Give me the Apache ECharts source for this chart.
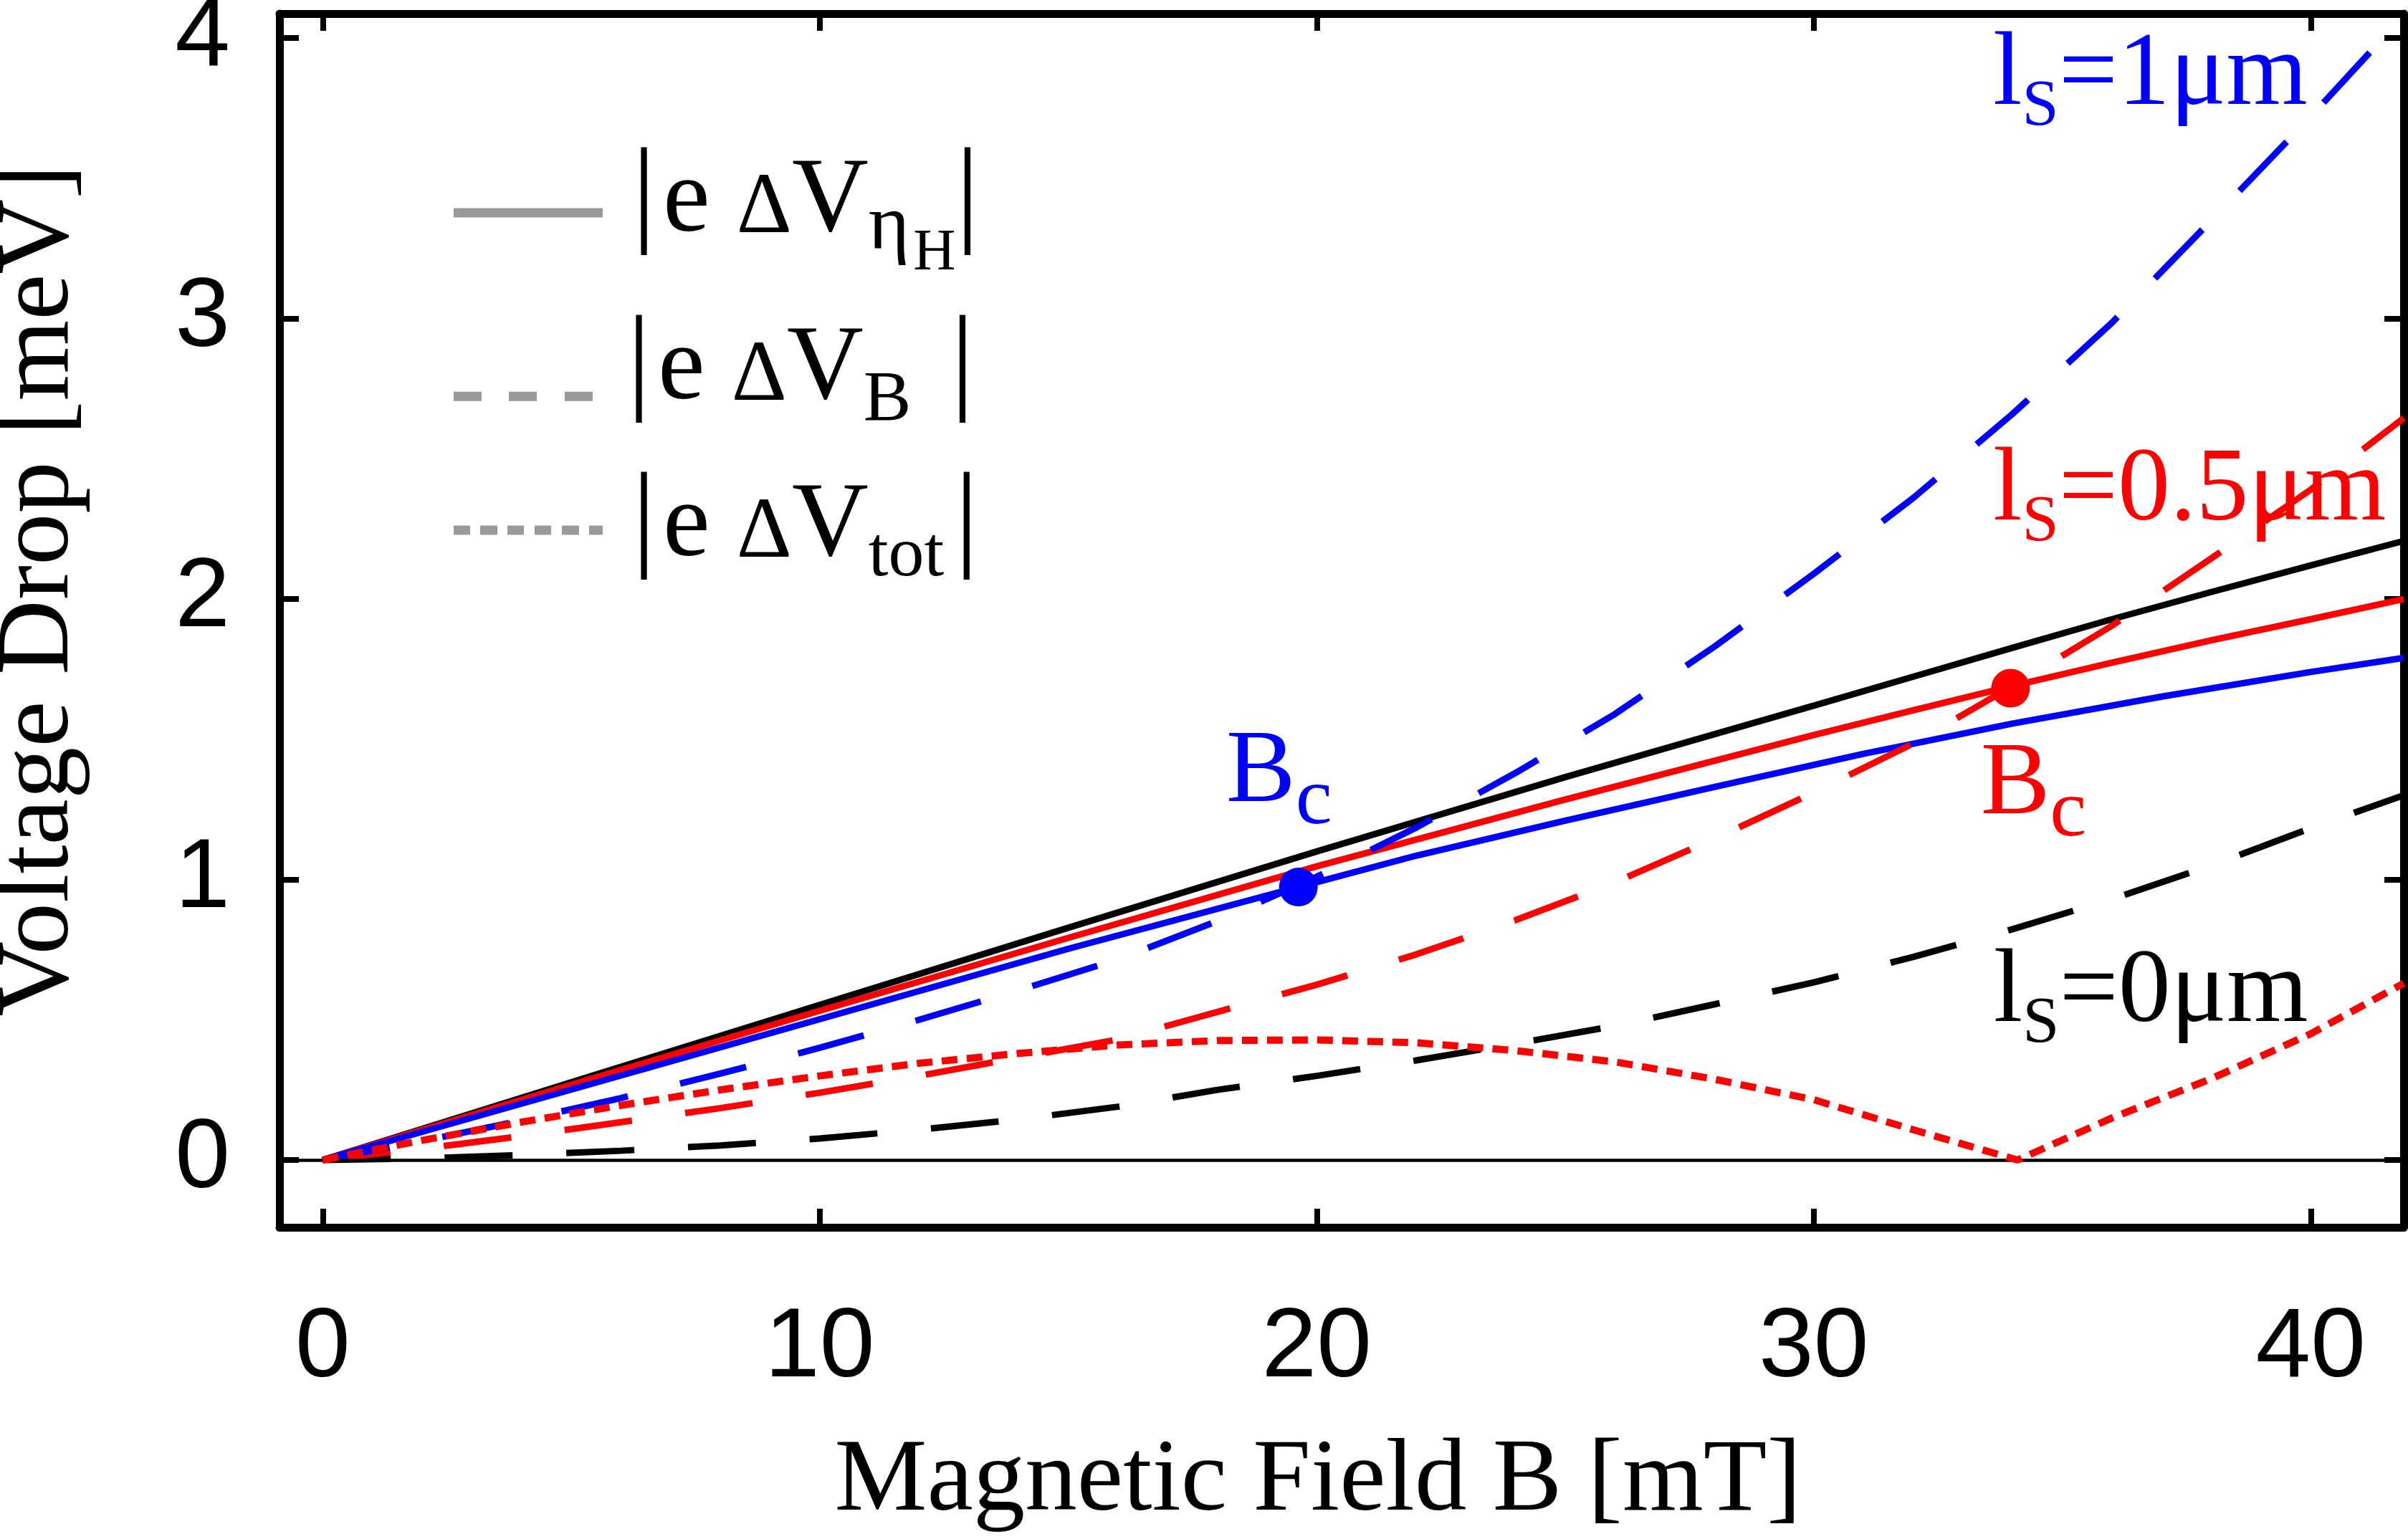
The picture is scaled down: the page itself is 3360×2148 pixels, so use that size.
<!DOCTYPE html>
<html>
<head>
<meta charset="utf-8">
<title>Voltage drop vs magnetic field</title>
<script src="https://cdn.jsdelivr.net/npm/echarts@6.0.0/dist/echarts.min.js"></script>
<style>
    html, body { margin: 0; padding: 0; background: #fff; }
    #chart { width: 3360px; height: 2148px; }
</style>
</head>
<body>
<div id="chart"></div>
<script>
// values: B in mT, voltage drop in meV
var xTicks = [0, 10, 20, 30, 40]
var yTicks = [0, 1, 2, 3, 4]
var xMin = -0.87, xMax = 41.87
var yMin = -0.24, yMax = 4.087

// |e dV_etaH| (solid)
var bEtaBlack = [0, 5, 10, 15, 20, 25, 30, 32, 34, 36, 38, 40, 41.87]
var vEtaBlack = [0, 0.277, 0.553, 0.828, 1.10, 1.365, 1.62, 1.723, 1.826, 1.928, 2.025, 2.12, 2.207]
var bEtaRed = [0, 5, 10, 15, 20, 25, 30, 32, 34, 36, 38, 40, 41.87]
var vEtaRed = [0, 0.268, 0.532, 0.792, 1.047, 1.285, 1.515, 1.603, 1.69, 1.773, 1.853, 1.928, 2.0]
var bEtaBlue = [0, 5, 10, 15, 19.63, 22, 25, 28, 31, 34, 37, 40, 41.87]
var vEtaBlue = [0, 0.251, 0.502, 0.753, 0.973, 1.085, 1.21, 1.33, 1.448, 1.556, 1.652, 1.74, 1.79]

// |e dV_B| (dashed)
var bField = [0, 2, 4, 6, 8, 10, 12, 14, 16, 18, 20, 22, 24, 26, 28, 30, 32, 34, 36, 38, 40, 41.87]
var vBBlack = [0, 0.006, 0.018, 0.033, 0.052, 0.077, 0.108, 0.145, 0.19, 0.25, 0.30, 0.355, 0.415, 0.478, 0.555, 0.633, 0.724, 0.823, 0.93, 1.05, 1.183, 1.30]
var vBRed = [0, 0.04, 0.085, 0.135, 0.185, 0.24, 0.30, 0.365, 0.43, 0.528, 0.625, 0.733, 0.855, 0.99, 1.145, 1.31, 1.485, 1.69, 1.905, 2.145, 2.39, 2.645]
var vBBlue = [0, 0.067, 0.141, 0.221, 0.308, 0.40, 0.50, 0.605, 0.715, 0.852, 1.01, 1.185, 1.38, 1.59, 1.83, 2.09, 2.36, 2.66, 2.985, 3.35, 3.72, 4.08]

// |e dV_tot| (dotted, red only)
var bTotRed = [0, 2, 4, 6, 8, 10, 12, 14, 16, 18, 20, 22, 24, 26, 28, 30, 32, 34.1, 36, 38, 40, 41.87]
var vTotRed = [0, 0.07, 0.135, 0.195, 0.25, 0.30, 0.345, 0.38, 0.41, 0.426, 0.428, 0.418, 0.39, 0.35, 0.288, 0.215, 0.108, 0, 0.15, 0.29, 0.45, 0.63]

// critical fields B_c
var bcBlue = [19.63, 0.973]
var bcRed = [33.96, 1.682]

var BLUE = '#0000ff', RED = '#ff0000', BLACK = '#000000', GREY = '#999999'
var SERIF = 'Liberation Serif', SANS = 'Liberation Sans'

function pairs(xs, ys) {
    return xs.map(function (x, i) { return [x, ys[i]] })
}

function curve(xs, ys, color, type, width, z) {
    return {
        type: 'line',
        data: pairs(xs, ys),
        symbol: 'none',
        showSymbol: false,
        silent: true,
        z: z,
        lineStyle: { color: color, width: width, type: type },
        itemStyle: { color: color }
    }
}

var DASH = [95, 75]
var DOT = [22, 13]

// rich-text piece of fixed box height `box`; `base` = where its baseline
// should sit below the line centre (bigger for subscripts)
function tok(size, color, base, box, padLeft) {
    var top = base + box / 2 - 0.8375 * size
    return {
        fontFamily: SERIF,
        fontSize: size,
        color: color,
        lineHeight: box,
        verticalAlign: 'middle',
        padding: [top, 0, box - size - top, padLeft || 0]
    }
}

function labelRich(color) {
    return {
        m: tok(146, color, 49, 200),
        s: tok(92, color, 74, 200),
        B: tok(145, color, 49, 200),
        c: tok(115, color, 78, 200)
    }
}

function textSeries(color, items) {
    return {
        type: 'scatter',
        symbolSize: 1,
        silent: true,
        z: 10,
        itemStyle: { color: 'rgba(0,0,0,0)', opacity: 1 },
        data: items.map(function (it) {
            return { value: it.at, label: { formatter: it.text } }
        }),
        label: {
            show: true,
            position: 'right',
            distance: 0,
            align: 'left',
            verticalAlign: 'middle',
            fontFamily: SERIF,
            fontSize: 146,
            lineHeight: 200,
            color: color,
            opacity: 1,
            rich: labelRich(color)
        }
    }
}

var ICON_SOLID = 'path://M0,0H208V13H0Z'
var ICON_DASH = 'path://M0,0H39V13H0Z M77,0H116V13H77Z M155,0H194V13H155Z'
var ICON_DOT = 'path://M0,0H23V13H0Z M37,0H61V13H37Z M75,0H98V13H75Z M113,0H136V13H113Z M151,0H175V13H151Z M189,0H208V13H189Z'

var legendText = {
    etaH: '{bar||}{e|e }{d|Δ}{m|V}{s1|η}{s2|H}{barA||}',
    B: '{bar||}{e|e }{d|Δ}{m|V}{sB|B}{barB||}',
    tot: '{bar||}{e|e }{d|Δ}{m|V}{sT|tot}{barC||}'
}

var LEG_BOX = 210

// one legend per row: sample line centred at iconY, text moved by dy
function legendRow(name, icon, iconY, dy) {
    return {
        orient: 'vertical',
        left: 633,
        top: iconY - LEG_BOX / 2,
        padding: 0,
        itemWidth: 208,
        itemHeight: 13,
        selectedMode: false,
        data: [{ name: name, icon: icon }],
        formatter: function (n) { return legendText[n] },
        textStyle: {
            color: BLACK,
            fontFamily: SERIF,
            fontSize: 148,
            lineHeight: LEG_BOX,
            rich: {
                bar: tok(165, BLACK, 42 + dy, LEG_BOX, 36),
                e: tok(148, BLACK, 42 + dy, LEG_BOX, 10),
                d: tok(120, BLACK, 42 + dy, LEG_BOX),
                m: tok(148, BLACK, 42 + dy, LEG_BOX),
                s1: tok(110, BLACK, 64 + dy, LEG_BOX),
                s2: tok(82, BLACK, 91 + dy, LEG_BOX, 5),
                sB: tok(100, BLACK, 68 + dy, LEG_BOX),
                sT: tok(100, BLACK, 66 + dy, LEG_BOX),
                barA: tok(165, BLACK, 42 + dy, LEG_BOX, 0),
                barB: tok(165, BLACK, 42 + dy, LEG_BOX, 55),
                barC: tok(165, BLACK, 42 + dy, LEG_BOX, 15)
            }
        }
    }
}

function axisCommon(extra) {
    var base = {
        type: 'value',
        axisLine: { show: true, onZero: false, lineStyle: { color: BLACK, width: 11 } },
        splitLine: { show: false }
    }
    return Object.assign(base, extra)
}

var chartDom = document.getElementById('chart')
var myChart = echarts.init(chartDom)

var options = {
    animation: false,
    backgroundColor: '#ffffff',
    textStyle: { fontFamily: SERIF },
    grid: { left: 390, right: 6, top: 19, bottom: 435, containLabel: false, outerBoundsMode: 'none' },
    legend: [
        legendRow('etaH', ICON_SOLID, 297, -6),
        legendRow('B', ICON_DASH, 534, -28),
        legendRow('tot', ICON_DOT, 740, 4)
    ],
    xAxis: [
        axisCommon({
            position: 'bottom',
            min: xMin,
            max: xMax,
            axisTick: { show: true, inside: true, length: 26, customValues: xTicks, lineStyle: { color: BLACK, width: 8 } },
            axisLabel: { show: true, customValues: xTicks, margin: 101, color: BLACK, fontFamily: SANS, fontSize: 138 },
            name: 'Magnetic Field B [mT]',
            nameLocation: 'middle',
            nameGap: 283,
            nameTextStyle: { fontFamily: SERIF, fontSize: 145, color: BLACK, padding: [0, 66, 0, 0] }
        }),
        axisCommon({
            position: 'top',
            min: xMin,
            max: xMax,
            axisTick: { show: true, inside: true, length: 24, customValues: xTicks, lineStyle: { color: BLACK, width: 8 } },
            axisLabel: { show: false }
        })
    ],
    yAxis: [
        axisCommon({
            position: 'left',
            min: yMin,
            max: yMax,
            axisTick: { show: true, inside: true, length: 27, customValues: yTicks, lineStyle: { color: BLACK, width: 8 } },
            axisLabel: { show: true, customValues: yTicks, margin: 69, color: BLACK, fontFamily: SANS, fontSize: 138, padding: [0, 0, 16, 0] },
            name: 'Voltage Drop [meV]',
            nameLocation: 'middle',
            nameRotate: 90,
            nameGap: 262,
            nameTextStyle: { fontFamily: SERIF, fontSize: 145, color: BLACK, padding: [0, 0, 0, 84] }
        }),
        axisCommon({
            position: 'right',
            min: yMin,
            max: yMax,
            axisTick: { show: true, inside: true, length: 27, customValues: yTicks, lineStyle: { color: BLACK, width: 8 } },
            axisLabel: { show: false }
        })
    ],
    series: [
        // legend-only entries (grey samples)
        { name: 'etaH', type: 'line', data: [], symbol: 'none', color: GREY, lineStyle: { color: GREY } },
        { name: 'B', type: 'line', data: [], symbol: 'none', color: GREY, lineStyle: { color: GREY } },
        { name: 'tot', type: 'line', data: [], symbol: 'none', color: GREY, lineStyle: { color: GREY } },

        Object.assign(curve(bEtaBlack, vEtaBlack, BLACK, 'solid', 9, 2), {
            markLine: {
                silent: true,
                symbol: ['none', 'none'],
                label: { show: false },
                lineStyle: { color: BLACK, width: 4.5, type: 'solid' },
                data: [{ yAxis: 0 }]
            }
        }),
        curve(bEtaRed, vEtaRed, RED, 'solid', 9, 3),
        curve(bEtaBlue, vEtaBlue, BLUE, 'solid', 9, 3),
        curve(bField, vBBlack, BLACK, DASH, 9, 4),
        curve(bField, vBRed, RED, DASH, 9, 4),
        curve(bField, vBBlue, BLUE, DASH, 9, 4),
        curve(bTotRed, vTotRed, RED, DOT, 10, 5),

        { type: 'scatter', data: [bcBlue], symbolSize: 54, itemStyle: { color: BLUE, opacity: 1 }, z: 6, silent: true },
        { type: 'scatter', data: [bcRed], symbolSize: 54, itemStyle: { color: RED, opacity: 1 }, z: 6, silent: true },

        textSeries(BLUE, [
            { at: [33.60, 3.862], text: '{m|l}{s|S}{m|=1μm}' },
            { at: [18.17, 1.378], text: '{B|B}{c|c}' }
        ]),
        textSeries(RED, [
            { at: [33.60, 2.382], text: '{m|l}{s|S}{m|=0.5μm}' },
            { at: [33.35, 1.334], text: '{B|B}{c|c}' }
        ]),
        textSeries(BLACK, [
            { at: [33.61, 0.593], text: '{m|l}{s|S}{m|=0μm}' }
        ])
    ]
}

myChart.setOption(options)
</script>
</body>
</html>
